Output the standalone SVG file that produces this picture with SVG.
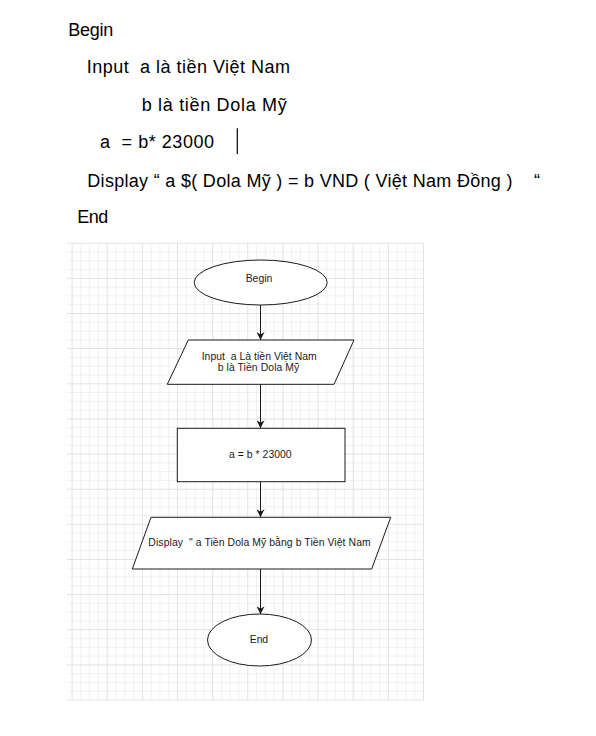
<svg xmlns="http://www.w3.org/2000/svg" width="596" height="736" viewBox="0 0 596 736">
<style>
.doc{font-family:"Liberation Sans",Arial,sans-serif;font-size:18px;fill:#000;white-space:pre}
.lbl{font-family:"Liberation Sans",Arial,sans-serif;font-size:10.4px;fill:#1a1a1a;text-anchor:middle;white-space:pre}
.shape{fill:#fff;stroke:#1a1a1a;stroke-width:1}
.conn{stroke:#1a1a1a;stroke-width:1;fill:none}
.gmin{stroke:#f1f1f1;stroke-width:1;fill:none}
.gmaj{stroke:#e2e2e2;stroke-width:1;fill:none}
</style>
<defs>
<marker id="arrow" viewBox="0 0 8 8" refX="8" refY="4" markerWidth="8" markerHeight="8" markerUnits="userSpaceOnUse" orient="auto">
<path d="M0,0 L8,4 L0,8 L2.5,4 Z" fill="#1a1a1a"/>
</marker>
</defs>
<rect width="596" height="736" fill="#fff"/>

<g id="pseudocode">
<text class="doc" x="68.3" y="36" textLength="45">Begin</text>
<text class="doc" x="86.7" y="73.3" textLength="203.3" xml:space="preserve">Input  a là tiền Việt Nam</text>
<text class="doc" x="141.7" y="110.7" textLength="145">b là tiền Dola Mỹ</text>
<text class="doc" x="100" y="148.3" textLength="114" xml:space="preserve">a  = b* 23000</text>
<line x1="237.3" y1="128.3" x2="237.3" y2="154" stroke="#000" stroke-width="1.2"/>
<text class="doc" x="87.3" y="186.7" textLength="452.7" xml:space="preserve">Display “ a $( Dola Mỹ ) = b VND ( Việt Nam Đồng )    “</text>
<text class="doc" x="77.3" y="223.3" textLength="31">End</text>
</g>

<g id="grid">
<path class="gmin" d="M80.9 243.2V700M89.7 243.2V700M98.5 243.2V700M116 243.2V700M124.8 243.2V700M133.6 243.2V700M151.2 243.2V700M159.9 243.2V700M168.7 243.2V700M186.3 243.2V700M195.1 243.2V700M203.9 243.2V700M221.4 243.2V700M230.2 243.2V700M239 243.2V700M256.6 243.2V700M265.4 243.2V700M274.2 243.2V700M291.7 243.2V700M300.5 243.2V700M309.3 243.2V700M326.9 243.2V700M335.7 243.2V700M344.4 243.2V700M362 243.2V700M370.8 243.2V700M379.6 243.2V700M397.2 243.2V700M405.9 243.2V700M414.7 243.2V700
M67 252H423.5M67 260.8H423.5M67 269.6H423.5M67 287.1H423.5M67 295.9H423.5M67 304.7H423.5M67 322.3H423.5M67 331.1H423.5M67 339.8H423.5M67 357.4H423.5M67 366.2H423.5M67 375H423.5M67 392.5H423.5M67 401.3H423.5M67 410.1H423.5M67 427.7H423.5M67 436.5H423.5M67 445.3H423.5M67 462.8H423.5M67 471.6H423.5M67 480.4H423.5M67 498H423.5M67 506.8H423.5M67 515.5H423.5M67 533.1H423.5M67 541.9H423.5M67 550.7H423.5M67 568.2H423.5M67 577H423.5M67 585.8H423.5M67 603.4H423.5M67 612.2H423.5M67 621H423.5M67 638.5H423.5M67 647.3H423.5M67 656.1H423.5M67 673.7H423.5M67 682.5H423.5M67 691.2H423.5"/>
<path class="gmaj" d="M72.1 243.2V700M107.2 243.2V700M142.4 243.2V700M177.5 243.2V700M212.7 243.2V700M247.8 243.2V700M282.9 243.2V700M318.1 243.2V700M353.2 243.2V700M388.4 243.2V700M423.5 243.2V700
M67 243.2H423.5M67 278.3H423.5M67 313.5H423.5M67 348.6H423.5M67 383.8H423.5M67 418.9H423.5M67 454H423.5M67 489.2H423.5M67 524.3H423.5M67 559.5H423.5M67 594.6H423.5M67 629.7H423.5M67 664.9H423.5M67 700H423.5"/>
</g>

<g id="connectors">
<line class="conn" x1="260.5" y1="305" x2="260.5" y2="340" marker-end="url(#arrow)"/>
<line class="conn" x1="260.5" y1="384.3" x2="260.5" y2="428.3" marker-end="url(#arrow)"/>
<line class="conn" x1="260.5" y1="481.7" x2="260.5" y2="517.3" marker-end="url(#arrow)"/>
<line class="conn" x1="260.5" y1="569" x2="260.5" y2="614.3" marker-end="url(#arrow)"/>
</g>

<g id="node-begin">
<ellipse class="shape" cx="260.7" cy="282.5" rx="66.5" ry="22.5"/>
<text class="lbl" x="259" y="282" textLength="26.7">Begin</text>
</g>

<g id="node-input">
<polygon class="shape" points="188.3,340 354,340 334,384.3 167.3,384.3"/>
<text class="lbl" x="259.2" y="360" textLength="115" xml:space="preserve">Input  a Là tiền Việt Nam</text>
<text class="lbl" x="258.5" y="371" textLength="81.6">b là Tiền Dola Mỹ</text>
</g>

<g id="node-process">
<rect class="shape" x="177.3" y="428.3" width="167.7" height="53.4"/>
<text class="lbl" x="260.3" y="458" textLength="62.7">a = b * 23000</text>
</g>

<g id="node-display">
<polygon class="shape" points="151,517.3 390.7,517.3 371.7,569 132.3,569"/>
<text class="lbl" x="259.5" y="545.7" textLength="222.3" xml:space="preserve">Display  " a Tiền Dola Mỹ bằng b Tiền Việt Nam</text>
</g>

<g id="node-end">
<ellipse class="shape" cx="259.5" cy="640" rx="52" ry="26"/>
<text class="lbl" x="259" y="642.5" textLength="18.3">End</text>
</g>
</svg>
